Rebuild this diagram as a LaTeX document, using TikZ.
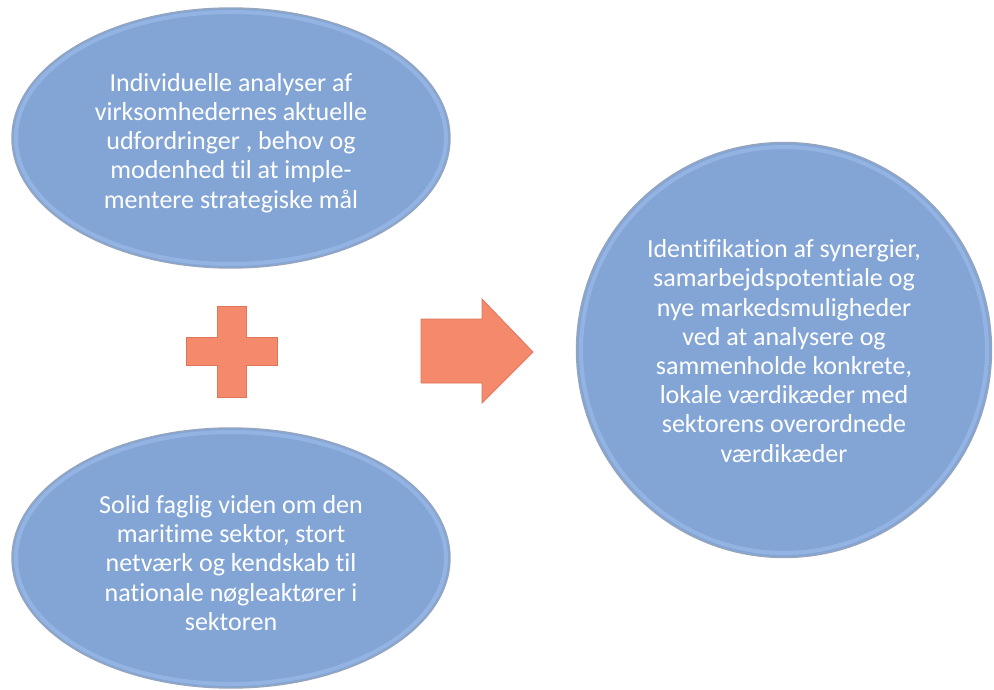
\documentclass[tikz,border=0pt]{standalone}
\usepackage{fontspec}
\setmainfont[Ligatures={NoCommon}]{Carlito}
\usetikzlibrary{shapes.geometric}
\definecolor{bubble}{RGB}{131,165,214}
\definecolor{bubbleedge}{RGB}{150,165,190}
\definecolor{bubblehi}{RGB}{168,200,245}
\definecolor{salmon}{RGB}{245,137,107}
\definecolor{salmonedge}{RGB}{222,118,92}
\tikzset{
  bubblebox/.style={ellipse, fill=bubble, draw=bubbleedge, line width=1.4pt,
    inner sep=0pt},
  bubbletext/.style={text=white, align=center, inner sep=0pt,
    font=\fontsize{26}{29.2}\selectfont},
  rim/.style={draw=bubblehi, line width=4pt, opacity=0.45},
  signshape/.style={fill=salmon, draw=salmonedge, line width=0.8pt, line join=miter}
}
\begin{document}
\begin{tikzpicture}[x=1pt,y=-1pt]
\useasboundingbox (0,0) rectangle (994,690);
\fill[white] (0,0) rectangle (994,690);
% ellipses
\node[bubblebox, minimum width=438pt, minimum height=260pt] (top) at (231,138) {};
\node[bubblebox, minimum width=438pt, minimum height=260pt] (bottom) at (231,558) {};
\node[bubblebox, minimum width=415pt, minimum height=415pt] (result) at (784,350) {};
% soft inner rims
\draw[rim] (top.center) ellipse [x radius=215, y radius=-126];
\draw[rim] (bottom.center) ellipse [x radius=215, y radius=-126];
\draw[rim] (result.center) circle [radius=203];
% texts
\node[bubbletext] (toptext) at ([yshift=-5pt]top.center)
  {Individuelle analyser af\\virksomhedernes aktuelle\\udfordringer , behov og\\modenhed til at imple-\\mentere strategiske mål};
\node[bubbletext] (bottomtext) at ([yshift=-5pt]bottom.center)
  {Solid faglig viden om den\\maritime sektor, stort\\netværk og kendskab til\\nationale nøgleaktører i\\sektoren};
\node[bubbletext] (resulttext) at ([yshift=-1pt]result.center)
  {Identifikation af synergier,\\samarbejdspotentiale og\\nye markedsmuligheder\\ved at analysere og\\sammenholde konkrete,\\lokale værdikæder med\\sektorens overordnede\\værdikæder};
% plus sign
\draw[signshape] (217,306) -- (246,306) -- (246,337) -- (277,337) -- (277,365)
  -- (246,365) -- (246,397) -- (217,397) -- (217,365) -- (186,365) -- (186,337)
  -- (217,337) -- cycle;
% arrow
\draw[signshape] (421,319) -- (482,319) -- (482,299) -- (533,352) -- (482,403)
  -- (482,383) -- (421,383) -- cycle;
\end{tikzpicture}
\end{document}
